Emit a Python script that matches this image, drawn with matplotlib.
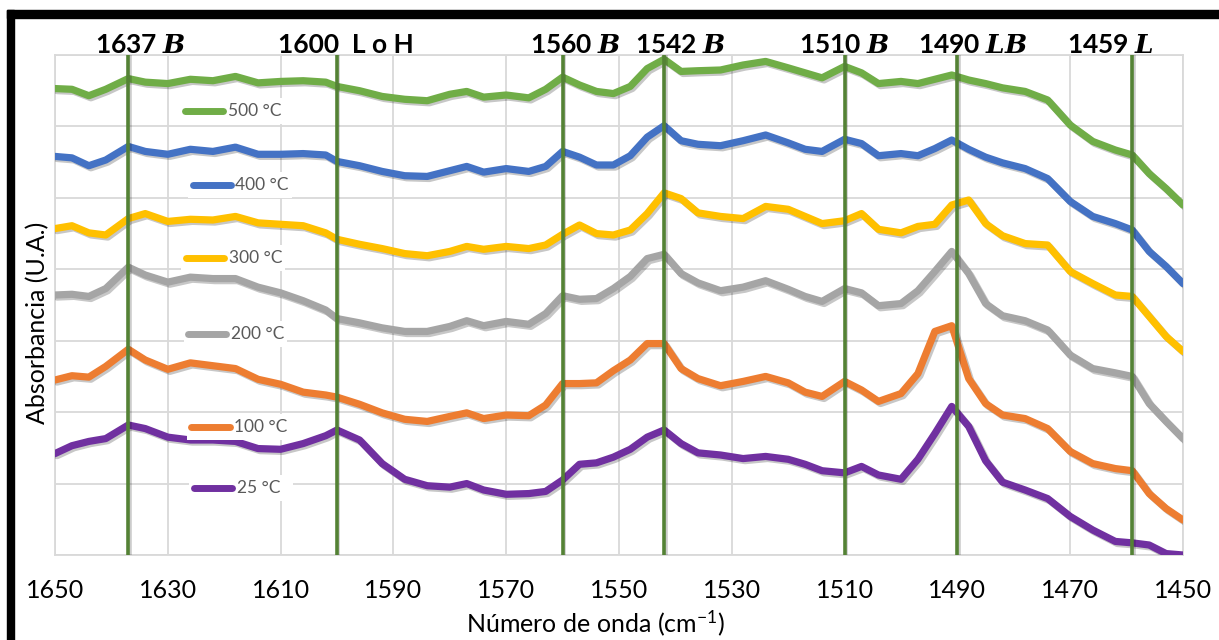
import matplotlib
matplotlib.use('Agg')
import matplotlib.pyplot as plt
import matplotlib.patheffects as pe
from matplotlib.patches import Rectangle

plt.rcParams['font.family'] = ['Lato', 'DejaVu Sans']
plt.rcParams['mathtext.fontset'] = 'custom'
plt.rcParams['mathtext.it'] = 'DejaVu Serif:italic:bold'
plt.rcParams['mathtext.rm'] = 'Lato'

# wavenumbers (cm-1)
wn = [1650, 1647, 1644, 1641, 1637, 1634, 1630, 1626, 1622, 1618,
      1614, 1610, 1606, 1602, 1600, 1596, 1592, 1588, 1584, 1580,
      1577, 1574, 1570, 1566, 1563, 1560, 1557, 1554, 1551, 1548,
      1545, 1542, 1539, 1536, 1532, 1528, 1524, 1520, 1517, 1514,
      1510, 1507, 1504, 1500, 1497, 1494, 1491, 1488, 1485, 1482,
      1478, 1474, 1470, 1466, 1462, 1459, 1456, 1453, 1450]

s500 = [6.53, 6.52, 6.43, 6.52, 6.67, 6.62, 6.60, 6.66, 6.64, 6.70,
        6.61, 6.63, 6.64, 6.62, 6.56, 6.50, 6.42, 6.38, 6.36, 6.45,
        6.49, 6.41, 6.44, 6.40, 6.52, 6.69, 6.58, 6.49, 6.46, 6.56,
        6.81, 6.94, 6.77, 6.78, 6.79, 6.86, 6.91, 6.82, 6.75, 6.68,
        6.84, 6.75, 6.60, 6.63, 6.60, 6.66, 6.72, 6.65, 6.60, 6.54,
        6.49, 6.37, 6.02, 5.79, 5.67, 5.60, 5.34, 5.13, 4.90]

s400 = [5.58, 5.56, 5.45, 5.53, 5.72, 5.65, 5.61, 5.68, 5.65, 5.71,
        5.61, 5.61, 5.62, 5.60, 5.51, 5.45, 5.37, 5.31, 5.30, 5.38,
        5.44, 5.36, 5.41, 5.37, 5.44, 5.65, 5.57, 5.46, 5.46, 5.59,
        5.85, 6.01, 5.80, 5.75, 5.73, 5.80, 5.88, 5.77, 5.68, 5.65,
        5.82, 5.76, 5.59, 5.62, 5.59, 5.69, 5.81, 5.68, 5.57, 5.49,
        5.41, 5.27, 4.95, 4.74, 4.64, 4.55, 4.25, 4.04, 3.80]

s300 = [4.57, 4.61, 4.51, 4.48, 4.71, 4.78, 4.67, 4.70, 4.69, 4.74,
        4.65, 4.63, 4.61, 4.51, 4.42, 4.35, 4.29, 4.22, 4.19, 4.25,
        4.32, 4.28, 4.32, 4.29, 4.34, 4.49, 4.62, 4.50, 4.48, 4.55,
        4.78, 5.07, 4.99, 4.79, 4.74, 4.71, 4.88, 4.84, 4.74, 4.64,
        4.68, 4.78, 4.56, 4.51, 4.60, 4.63, 4.90, 4.97, 4.64, 4.47,
        4.36, 4.34, 3.97, 3.80, 3.64, 3.62, 3.34, 3.06, 2.85]

s200 = [3.64, 3.65, 3.62, 3.73, 4.03, 3.92, 3.82, 3.89, 3.87, 3.87,
        3.75, 3.67, 3.56, 3.43, 3.31, 3.25, 3.18, 3.13, 3.13, 3.20,
        3.28, 3.21, 3.27, 3.23, 3.38, 3.63, 3.58, 3.59, 3.73, 3.90,
        4.15, 4.21, 3.94, 3.81, 3.70, 3.75, 3.84, 3.72, 3.62, 3.55,
        3.73, 3.67, 3.49, 3.52, 3.70, 3.97, 4.25, 3.94, 3.52, 3.35,
        3.28, 3.15, 2.80, 2.61, 2.55, 2.50, 2.12, 1.87, 1.63]

s100 = [2.45, 2.51, 2.49, 2.64, 2.88, 2.73, 2.60, 2.69, 2.65, 2.61,
        2.46, 2.39, 2.28, 2.24, 2.21, 2.11, 1.99, 1.90, 1.87, 1.94,
        1.99, 1.91, 1.96, 1.95, 2.10, 2.40, 2.40, 2.41, 2.58, 2.73,
        2.96, 2.96, 2.61, 2.47, 2.37, 2.43, 2.50, 2.41, 2.28, 2.22,
        2.43, 2.31, 2.15, 2.26, 2.54, 3.13, 3.21, 2.47, 2.12, 1.96,
        1.91, 1.77, 1.45, 1.28, 1.21, 1.18, 0.86, 0.65, 0.49]

s25 = [1.42, 1.53, 1.59, 1.63, 1.82, 1.77, 1.65, 1.61, 1.61, 1.59,
       1.49, 1.48, 1.56, 1.67, 1.75, 1.61, 1.28, 1.06, 0.97, 0.95,
       1.00, 0.91, 0.85, 0.86, 0.89, 1.05, 1.27, 1.29, 1.37, 1.48,
       1.65, 1.75, 1.56, 1.43, 1.40, 1.35, 1.38, 1.34, 1.27, 1.18,
       1.15, 1.24, 1.12, 1.06, 1.34, 1.70, 2.08, 1.80, 1.32, 1.02,
       0.91, 0.79, 0.54, 0.35, 0.19, 0.17, 0.14, 0.02, 0.00]

names = ['500 °C', '400 °C', '300 °C', '200 °C', '100 °C', '25 °C']
colors = ['#70AD47', '#4472C4', '#FFC000', '#A5A5A5', '#ED7D31', '#7030A0']
data = [s500, s400, s300, s200, s100, s25]

peaks = [1637, 1600, 1560, 1542, 1510, 1490, 1459]
peak_labels = ['1637 $B$', '1600  L o H', '1560 $B$', '1542 $B$',
               '1510 $B$', '1490 $LB$', '1459 $L$']
peak_label_x = [0.0355, 0.198, 0.421, 0.514, 0.660, 0.765, 0.897]

# where the series name labels sit (axes fraction)
key_pos = [(0.115, 0.888), (0.122, 0.740), (0.116, 0.594),
           (0.118, 0.442), (0.121, 0.256), (0.123, 0.134)]

fig = plt.figure(figsize=(12.19, 6.4), dpi=100)
ax = fig.add_axes([55/1219, 85/640, 1128/1219, 500/640])

shadow = [pe.SimpleLineShadow(offset=(1.5, -1.5), shadow_color='black', alpha=0.22), pe.Normal()]

for vals, col in zip(data, colors):
    ax.plot(wn, vals, color=col, lw=5.2, solid_joinstyle='round',
            solid_capstyle='round', zorder=3, path_effects=shadow)

for p in peaks:
    ax.axvline(p, color='#548235', lw=2.6, zorder=4,
               path_effects=[pe.SimpleLineShadow(offset=(1, -1), alpha=0.2), pe.Normal()])

for lab, fx in zip(peak_labels, peak_label_x):
    ax.text(fx, 1.004, lab, transform=ax.transAxes, fontsize=19,
            fontweight='bold', ha='left', va='baseline')

for (x0, y0), name, col in zip(key_pos, names, colors):
    ax.add_patch(Rectangle((x0 - 0.004, y0 - 0.026), 0.092, 0.052,
                           transform=ax.transAxes, facecolor='white',
                           edgecolor='none', zorder=5))
    ax.plot([x0, x0 + 0.034], [y0, y0], transform=ax.transAxes, color=col,
            lw=5, solid_capstyle='round', zorder=6)
    ax.text(x0 + 0.038, y0, name, transform=ax.transAxes, va='center',
            ha='left', fontsize=12.5, color='#595959', zorder=6)

ax.set_xlim(1650, 1450)
ax.set_ylim(0, 7)
ax.set_xticks(list(range(1650, 1449, -20)))
ax.set_yticks(list(range(0, 8)))
ax.grid(color='#D9D9D9', lw=1.3)
ax.set_axisbelow(True)
ax.tick_params(axis='y', length=0, labelleft=False)
ax.tick_params(axis='x', length=0, pad=17, labelsize=18)
for s in ax.spines.values():
    s.set_color('#D9D9D9')
    s.set_linewidth(1.3)

fig.text(38/1219, 1 - 323/640, 'Absorbancia (U.A.)', rotation=90,
         ha='center', va='center', fontsize=18)
fig.text(595/1219, 1 - 632/640, 'Número de onda (cm$^{\\mathregular{-1}}$)',
         ha='center', va='baseline', fontsize=18)

# black frame (top and left)
fig.add_artist(Rectangle((7/1219, 1 - 18/640), 1212/1219, 8/640,
                         transform=fig.transFigure, color='black'))
fig.add_artist(Rectangle((7/1219, 0), 7/1219, 1 - 10/640,
                         transform=fig.transFigure, color='black'))

fig.savefig('out.png', dpi=100)
